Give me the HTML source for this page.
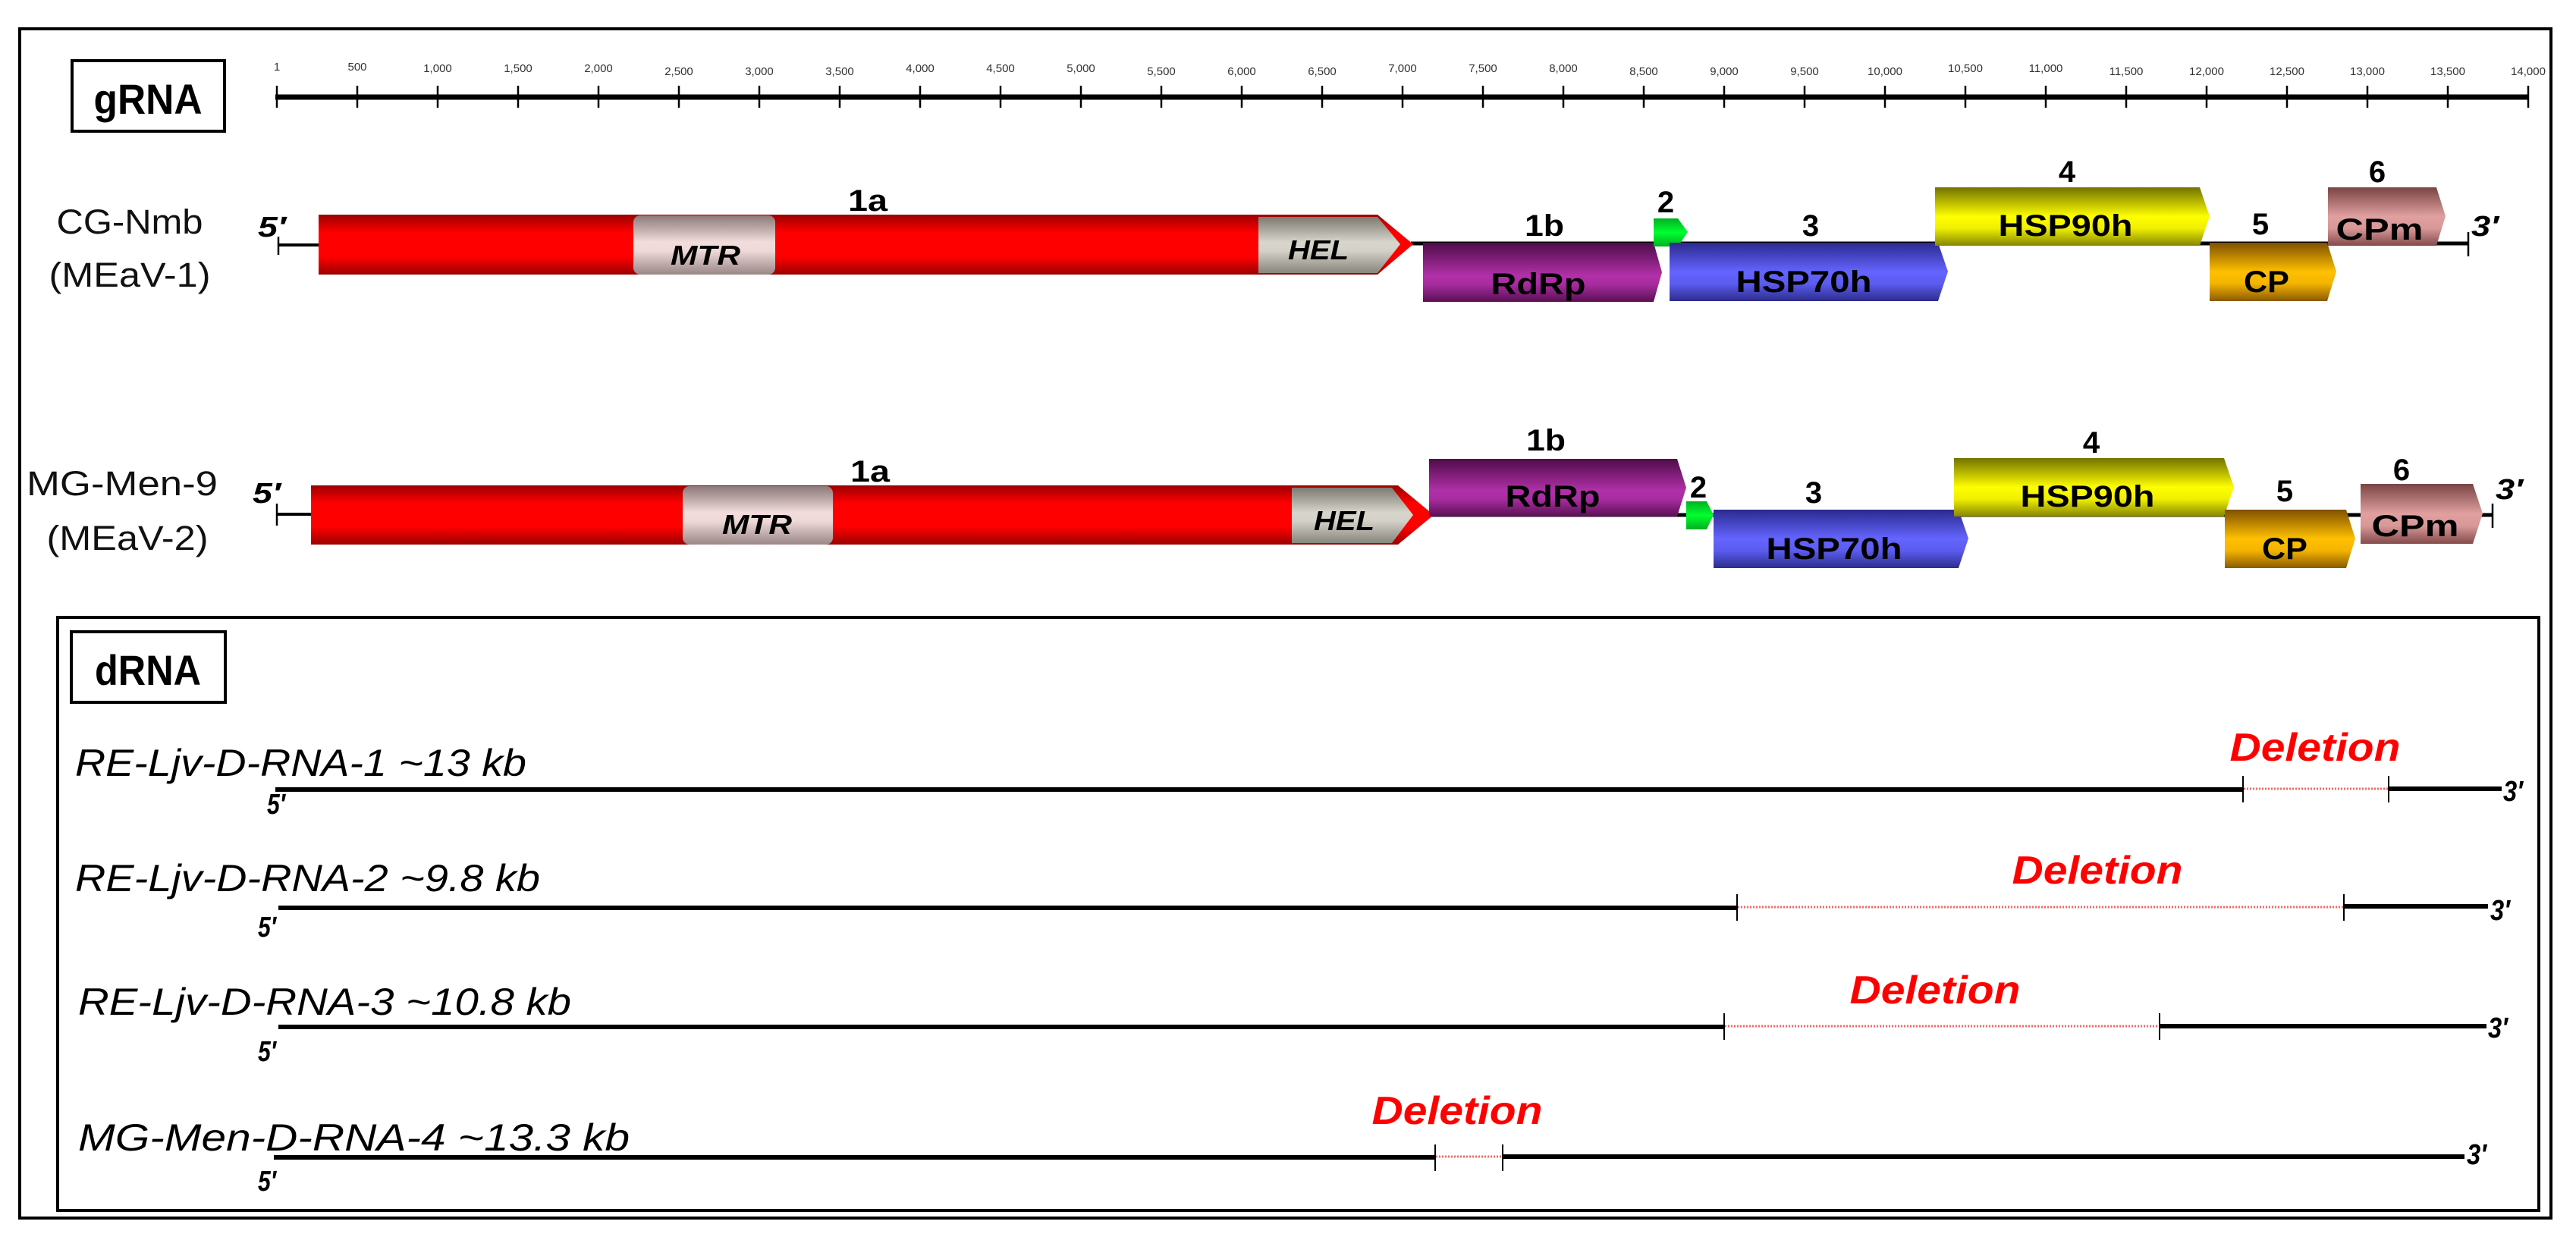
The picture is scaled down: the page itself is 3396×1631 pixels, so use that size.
<!DOCTYPE html>
<html><head><meta charset="utf-8"><style>
html,body{margin:0;padding:0;background:#fff;}
svg{display:block;}
text{font-family:"Liberation Sans",sans-serif;}
</style></head><body>
<svg width="3396" height="1631" viewBox="0 0 3396 1631" xmlns="http://www.w3.org/2000/svg">
<defs>
<linearGradient id="gRed" x1="0" y1="0" x2="0" y2="1"><stop offset="0" stop-color="#9a0000"/><stop offset="0.3" stop-color="#ff0000"/><stop offset="0.7" stop-color="#ff0000"/><stop offset="1" stop-color="#9a0000"/></linearGradient>
<linearGradient id="gGrey" x1="0" y1="0" x2="0" y2="1"><stop offset="0" stop-color="#7c7a70"/><stop offset="0.45" stop-color="#d8d6cc"/><stop offset="0.6" stop-color="#d4d2c8"/><stop offset="1" stop-color="#88867c"/></linearGradient>
<linearGradient id="gMtr" x1="0" y1="0" x2="0" y2="1"><stop offset="0" stop-color="#8c7878"/><stop offset="0.45" stop-color="#f2dcdc"/><stop offset="0.6" stop-color="#eed8d8"/><stop offset="1" stop-color="#9a8686"/></linearGradient>
<linearGradient id="gPur" x1="0" y1="0" x2="0" y2="1"><stop offset="0" stop-color="#4e0c48"/><stop offset="0.55" stop-color="#b030a8"/><stop offset="0.7" stop-color="#a82ca0"/><stop offset="1" stop-color="#5a1054"/></linearGradient>
<linearGradient id="gGrn" x1="0" y1="0" x2="0" y2="1"><stop offset="0" stop-color="#00b020"/><stop offset="0.5" stop-color="#00ff30"/><stop offset="1" stop-color="#00b020"/></linearGradient>
<linearGradient id="gBlu" x1="0" y1="0" x2="0" y2="1"><stop offset="0" stop-color="#2a2a90"/><stop offset="0.5" stop-color="#6464ff"/><stop offset="0.7" stop-color="#5c5cf0"/><stop offset="1" stop-color="#2c2c8c"/></linearGradient>
<linearGradient id="gYel" x1="0" y1="0" x2="0" y2="1"><stop offset="0" stop-color="#727200"/><stop offset="0.5" stop-color="#ffff00"/><stop offset="0.7" stop-color="#f0f000"/><stop offset="1" stop-color="#868600"/></linearGradient>
<linearGradient id="gOra" x1="0" y1="0" x2="0" y2="1"><stop offset="0" stop-color="#805000"/><stop offset="0.5" stop-color="#ffc000"/><stop offset="0.7" stop-color="#f4b400"/><stop offset="1" stop-color="#8a5a00"/></linearGradient>
<linearGradient id="gCpm" x1="0" y1="0" x2="0" y2="1"><stop offset="0" stop-color="#7a4444"/><stop offset="0.5" stop-color="#e0a0a0"/><stop offset="0.7" stop-color="#d89898"/><stop offset="1" stop-color="#844a4a"/></linearGradient>
</defs>

<!-- outer frame -->
<rect x="26" y="38" width="3337" height="1568" fill="none" stroke="#000" stroke-width="4"/>

<!-- gRNA box -->
<rect x="95" y="80" width="201" height="93" fill="#fff" stroke="#000" stroke-width="4"/>
<text x="195" y="150" font-size="56" font-weight="bold" text-anchor="middle" textLength="143" lengthAdjust="spacingAndGlyphs">gRNA</text>

<!-- ruler -->
<g>
<line x1="363" y1="128" x2="3333" y2="128" stroke="#000" stroke-width="7"/>
<g stroke="#000" stroke-width="2.5" id="ticks">
<line x1="365" y1="113" x2="365" y2="142"/><line x1="471" y1="113" x2="471" y2="142"/><line x1="577" y1="113" x2="577" y2="142"/><line x1="683" y1="113" x2="683" y2="142"/><line x1="789" y1="113" x2="789" y2="142"/><line x1="895" y1="113" x2="895" y2="142"/><line x1="1001" y1="113" x2="1001" y2="142"/><line x1="1107" y1="113" x2="1107" y2="142"/><line x1="1213" y1="113" x2="1213" y2="142"/><line x1="1319" y1="113" x2="1319" y2="142"/><line x1="1425" y1="113" x2="1425" y2="142"/><line x1="1531" y1="113" x2="1531" y2="142"/><line x1="1637" y1="113" x2="1637" y2="142"/><line x1="1743" y1="113" x2="1743" y2="142"/><line x1="1849" y1="113" x2="1849" y2="142"/><line x1="1955" y1="113" x2="1955" y2="142"/><line x1="2061" y1="113" x2="2061" y2="142"/><line x1="2167" y1="113" x2="2167" y2="142"/><line x1="2273" y1="113" x2="2273" y2="142"/><line x1="2379" y1="113" x2="2379" y2="142"/><line x1="2485" y1="113" x2="2485" y2="142"/><line x1="2591" y1="113" x2="2591" y2="142"/><line x1="2697" y1="113" x2="2697" y2="142"/><line x1="2803" y1="113" x2="2803" y2="142"/><line x1="2909" y1="113" x2="2909" y2="142"/><line x1="3015" y1="113" x2="3015" y2="142"/><line x1="3121" y1="113" x2="3121" y2="142"/><line x1="3227" y1="113" x2="3227" y2="142"/><line x1="3333" y1="113" x2="3333" y2="142"/>
</g>
<g font-size="15" fill="#333" text-anchor="middle">
<text x="365" y="93">1</text><text x="471" y="93">500</text><text x="577" y="95">1,000</text><text x="683" y="95">1,500</text><text x="789" y="95">2,000</text><text x="895" y="99">2,500</text><text x="1001" y="99">3,000</text><text x="1107" y="99">3,500</text><text x="1213" y="95">4,000</text><text x="1319" y="95">4,500</text><text x="1425" y="95">5,000</text><text x="1531" y="99">5,500</text><text x="1637" y="99">6,000</text><text x="1743" y="99">6,500</text><text x="1849" y="95">7,000</text><text x="1955" y="95">7,500</text><text x="2061" y="95">8,000</text><text x="2167" y="99">8,500</text><text x="2273" y="99">9,000</text><text x="2379" y="99">9,500</text><text x="2485" y="99">10,000</text><text x="2591" y="95">10,500</text><text x="2697" y="95">11,000</text><text x="2803" y="99">11,500</text><text x="2909" y="99">12,000</text><text x="3015" y="99">12,500</text><text x="3121" y="99">13,000</text><text x="3227" y="99">13,500</text><text x="3333" y="99">14,000</text>
</g>
</g>

<!-- Row 1: CG-Nmb -->
<text x="171" y="308" font-size="45" text-anchor="middle" textLength="193" lengthAdjust="spacingAndGlyphs" fill="#111">CG-Nmb</text>
<text x="171" y="378" font-size="45" text-anchor="middle" textLength="213" lengthAdjust="spacingAndGlyphs" fill="#111">(MEaV-1)</text>
<text x="340" y="312" font-size="38" font-weight="bold" font-style="italic" textLength="37" lengthAdjust="spacingAndGlyphs">5′</text>
<line x1="367" y1="323" x2="420" y2="323" stroke="#000" stroke-width="4"/>
<line x1="367" y1="312" x2="367" y2="336" stroke="#000" stroke-width="2.5"/>
<line x1="1860" y1="321" x2="3254" y2="321" stroke="#000" stroke-width="5"/>
<line x1="3254" y1="306" x2="3254" y2="338" stroke="#000" stroke-width="2.5"/>
<polygon points="420,283 1816,283 1863,322 1816,362 420,362" fill="url(#gRed)"/>
<rect x="835" y="284" width="187" height="78" rx="9" fill="url(#gMtr)"/>
<polygon points="1659,286 1816,286 1846,322 1816,360 1659,360" fill="url(#gGrey)"/>
<polygon points="1876,320 2180,320 2191,359 2180,398 1876,398" fill="url(#gPur)"/>
<polygon points="2180,288 2212,288 2225,306 2212,325 2180,325" fill="url(#gGrn)"/>
<polygon points="2201,320 2555,320 2568,358 2555,397 2201,397" fill="url(#gBlu)"/>
<polygon points="2551,247 2900,247 2913,285 2900,324 2551,324" fill="url(#gYel)"/>
<polygon points="2913,320 3068,320 3080,358 3068,397 2913,397" fill="url(#gOra)"/>
<polygon points="3069,247 3212,247 3224,285 3212,324 3069,324" fill="url(#gCpm)"/>
<g font-weight="bold" text-anchor="middle" font-size="40">
<text x="1144" y="278" textLength="52" lengthAdjust="spacingAndGlyphs">1a</text>
<text x="2036" y="311" textLength="52" lengthAdjust="spacingAndGlyphs">1b</text>
<text x="2196" y="280">2</text>
<text x="2387" y="311">3</text>
<text x="2725" y="240">4</text>
<text x="2980" y="309">5</text>
<text x="3134" y="240">6</text>
<text x="2028" y="388" textLength="125" lengthAdjust="spacingAndGlyphs">RdRp</text>
<text x="2378" y="385" textLength="179" lengthAdjust="spacingAndGlyphs">HSP70h</text>
<text x="2723" y="311" textLength="177" lengthAdjust="spacingAndGlyphs">HSP90h</text>
<text x="2988" y="385" textLength="60" lengthAdjust="spacingAndGlyphs">CP</text>
<text x="3137" y="316" textLength="115" lengthAdjust="spacingAndGlyphs">CPm</text>
</g>
<g font-weight="bold" font-style="italic" text-anchor="middle" font-size="36">
<text x="930" y="349" textLength="92" lengthAdjust="spacingAndGlyphs">MTR</text>
<text x="1738" y="342" textLength="80" lengthAdjust="spacingAndGlyphs">HEL</text>
</g>
<text x="3258" y="311" font-size="38" font-weight="bold" font-style="italic" textLength="36" lengthAdjust="spacingAndGlyphs">3′</text>

<!-- Row 2: MG-Men-9 -->
<text x="161" y="653" font-size="45" text-anchor="middle" textLength="252" lengthAdjust="spacingAndGlyphs" fill="#111">MG-Men-9</text>
<text x="168" y="725" font-size="45" text-anchor="middle" textLength="213" lengthAdjust="spacingAndGlyphs" fill="#111">(MEaV-2)</text>
<text x="333" y="663" font-size="38" font-weight="bold" font-style="italic" textLength="37" lengthAdjust="spacingAndGlyphs">5′</text>
<line x1="365" y1="678" x2="410" y2="678" stroke="#000" stroke-width="4"/>
<line x1="365" y1="664" x2="365" y2="693" stroke="#000" stroke-width="2.5"/>
<line x1="1885" y1="679" x2="3286" y2="679" stroke="#000" stroke-width="5"/>
<line x1="3286" y1="664" x2="3286" y2="696" stroke="#000" stroke-width="2.5"/>
<polygon points="410,640 1843,640 1890,679 1843,718 410,718" fill="url(#gRed)"/>
<rect x="900" y="641" width="198" height="77" rx="9" fill="url(#gMtr)"/>
<polygon points="1703,643 1835,643 1863,679 1835,716 1703,716" fill="url(#gGrey)"/>
<polygon points="1884,605 2211,605 2223,643 2211,681 1884,681" fill="url(#gPur)"/>
<polygon points="2223,661 2250,661 2259,679 2250,698 2223,698" fill="url(#gGrn)"/>
<polygon points="2259,672 2582,672 2595,710 2582,749 2259,749" fill="url(#gBlu)"/>
<polygon points="2576,604 2932,604 2945,642 2932,681 2576,681" fill="url(#gYel)"/>
<polygon points="2933,672 3093,672 3105,710 3093,749 2933,749" fill="url(#gOra)"/>
<polygon points="3112,638 3260,638 3273,677 3260,717 3112,717" fill="url(#gCpm)"/>
<g font-weight="bold" text-anchor="middle" font-size="40">
<text x="1147" y="635" textLength="52" lengthAdjust="spacingAndGlyphs">1a</text>
<text x="2038" y="594" textLength="52" lengthAdjust="spacingAndGlyphs">1b</text>
<text x="2239" y="656">2</text>
<text x="2391" y="663">3</text>
<text x="2757" y="597">4</text>
<text x="3012" y="661">5</text>
<text x="3166" y="633">6</text>
<text x="2047" y="668" textLength="125" lengthAdjust="spacingAndGlyphs">RdRp</text>
<text x="2418" y="737" textLength="179" lengthAdjust="spacingAndGlyphs">HSP70h</text>
<text x="2752" y="668" textLength="177" lengthAdjust="spacingAndGlyphs">HSP90h</text>
<text x="3012" y="737" textLength="60" lengthAdjust="spacingAndGlyphs">CP</text>
<text x="3184" y="707" textLength="115" lengthAdjust="spacingAndGlyphs">CPm</text>
</g>
<g font-weight="bold" font-style="italic" text-anchor="middle" font-size="36">
<text x="998" y="704" textLength="92" lengthAdjust="spacingAndGlyphs">MTR</text>
<text x="1772" y="699" textLength="80" lengthAdjust="spacingAndGlyphs">HEL</text>
</g>
<text x="3290" y="658" font-size="38" font-weight="bold" font-style="italic" textLength="36" lengthAdjust="spacingAndGlyphs">3′</text>

<!-- dRNA section -->
<rect x="76" y="814" width="3271" height="782" fill="none" stroke="#000" stroke-width="4"/>
<rect x="94" y="833" width="203" height="93" fill="#fff" stroke="#000" stroke-width="4"/>
<text x="195" y="903" font-size="56" font-weight="bold" text-anchor="middle" textLength="140" lengthAdjust="spacingAndGlyphs">dRNA</text>

<g font-size="50" font-style="italic">
<text x="99" y="1023" textLength="595" lengthAdjust="spacingAndGlyphs">RE-Ljv-D-RNA-1 ~13 kb</text>
<text x="99" y="1175" textLength="613" lengthAdjust="spacingAndGlyphs">RE-Ljv-D-RNA-2 ~9.8 kb</text>
<text x="103" y="1338" textLength="650" lengthAdjust="spacingAndGlyphs">RE-Ljv-D-RNA-3 ~10.8 kb</text>
<text x="103" y="1517" textLength="727" lengthAdjust="spacingAndGlyphs">MG-Men-D-RNA-4 ~13.3 kb</text>
</g>
<g font-size="38" font-weight="bold" font-style="italic">
<text x="352" y="1073" textLength="24" lengthAdjust="spacingAndGlyphs">5′</text>
<text x="340" y="1235" textLength="24" lengthAdjust="spacingAndGlyphs">5′</text>
<text x="340" y="1399" textLength="24" lengthAdjust="spacingAndGlyphs">5′</text>
<text x="340" y="1570" textLength="24" lengthAdjust="spacingAndGlyphs">5′</text>
<text x="3300" y="1056" textLength="26" lengthAdjust="spacingAndGlyphs">3′</text>
<text x="3283" y="1213" textLength="26" lengthAdjust="spacingAndGlyphs">3′</text>
<text x="3280" y="1368" textLength="26" lengthAdjust="spacingAndGlyphs">3′</text>
<text x="3252" y="1535" textLength="26" lengthAdjust="spacingAndGlyphs">3′</text>
</g>

<g stroke="#000" stroke-width="6">
<line x1="363" y1="1041" x2="2957" y2="1041"/><line x1="3149" y1="1040" x2="3298" y2="1040"/>
<line x1="367" y1="1197" x2="2290" y2="1197"/><line x1="3090" y1="1195" x2="3280" y2="1195"/>
<line x1="367" y1="1354" x2="2273" y2="1354"/><line x1="2847" y1="1353" x2="3278" y2="1353"/>
<line x1="361" y1="1526" x2="1892" y2="1526"/><line x1="1981" y1="1525" x2="3249" y2="1525"/>
</g>
<g stroke="#000" stroke-width="2">
<line x1="2957" y1="1023" x2="2957" y2="1058"/><line x1="3149" y1="1023" x2="3149" y2="1058"/>
<line x1="2290" y1="1179" x2="2290" y2="1214"/><line x1="3090" y1="1179" x2="3090" y2="1214"/>
<line x1="2273" y1="1336" x2="2273" y2="1371"/><line x1="2847" y1="1336" x2="2847" y2="1371"/>
<line x1="1892" y1="1509" x2="1892" y2="1544"/><line x1="1981" y1="1509" x2="1981" y2="1544"/>
</g>
<g stroke="#f06a6a" stroke-width="3" stroke-dasharray="2 2">
<line x1="2958" y1="1040" x2="3148" y2="1040"/>
<line x1="2291" y1="1196" x2="3089" y2="1196"/>
<line x1="2274" y1="1353" x2="2846" y2="1353"/>
<line x1="1893" y1="1525" x2="1980" y2="1525"/>
</g>
<g font-size="52" font-weight="bold" font-style="italic" fill="#ff0000" text-anchor="middle">
<text x="3052" y="1003" textLength="225" lengthAdjust="spacingAndGlyphs">Deletion</text>
<text x="2765" y="1165" textLength="225" lengthAdjust="spacingAndGlyphs">Deletion</text>
<text x="2551" y="1323" textLength="225" lengthAdjust="spacingAndGlyphs">Deletion</text>
<text x="1921" y="1482" textLength="225" lengthAdjust="spacingAndGlyphs">Deletion</text>
</g>
</svg>
</body></html>
